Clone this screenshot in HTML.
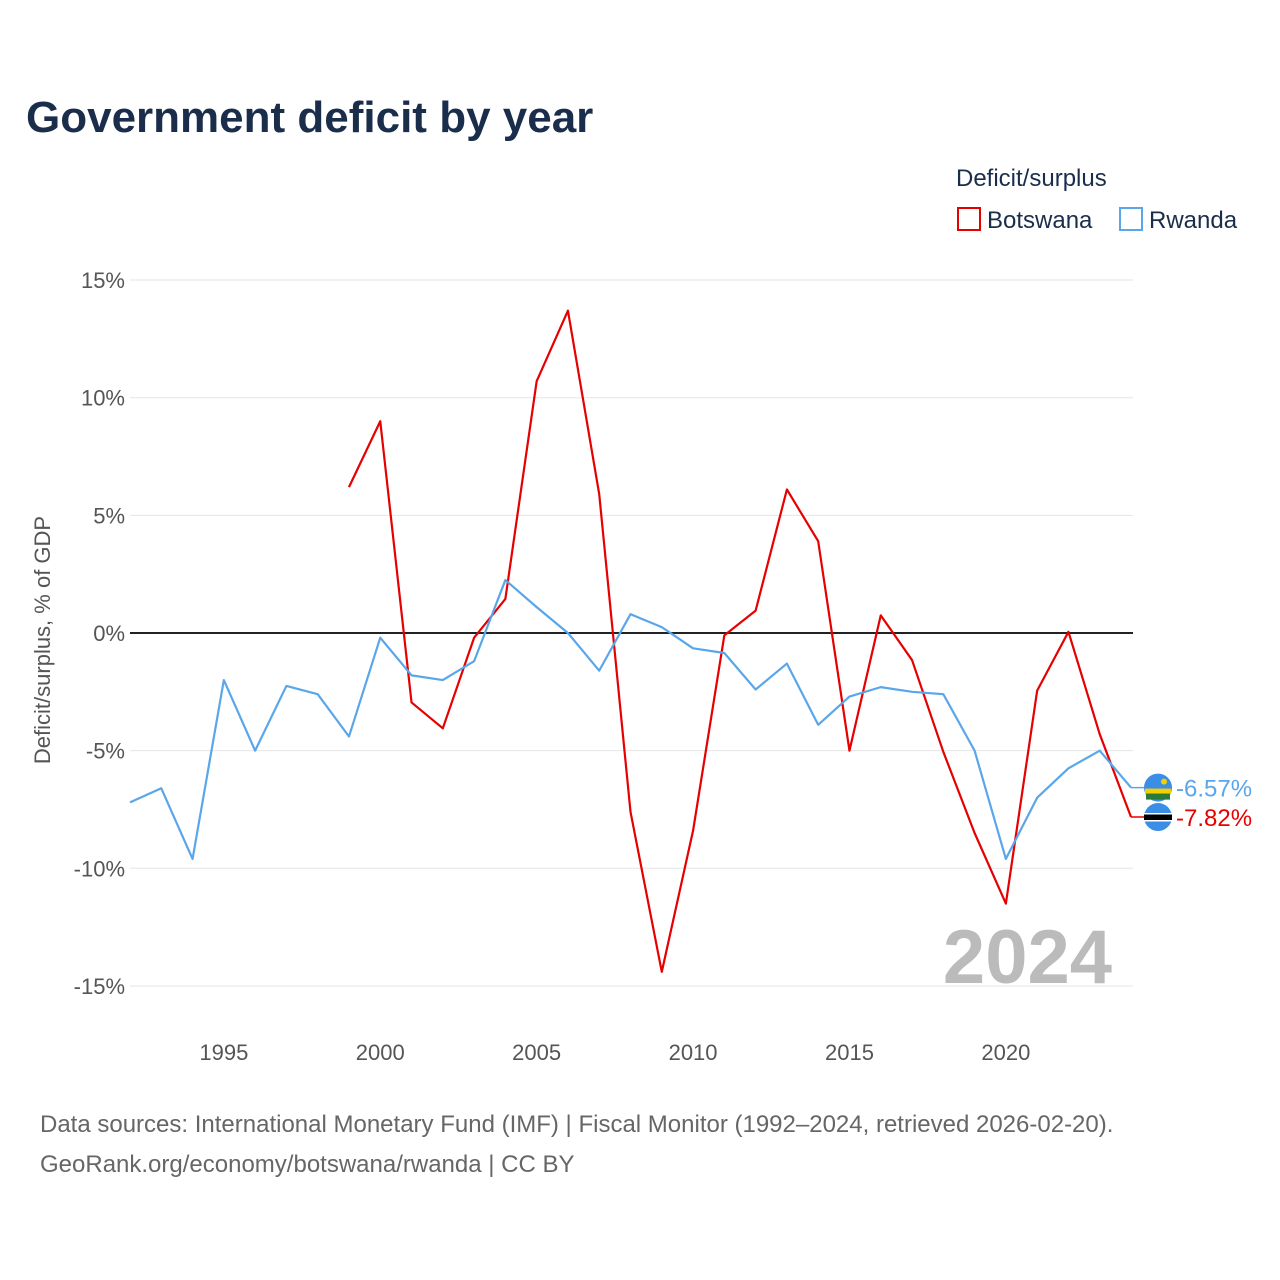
<!DOCTYPE html>
<html><head><meta charset="utf-8"><style>
body{margin:0;background:#fff;font-family:"Liberation Sans",sans-serif}
svg{display:block}
</style></head><body>
<svg id="chart" width="1280" height="1280">
<text x="26" y="132" font-size="44" font-weight="bold" fill="#1a2e4c">Government deficit by year</text>
<g>
<text x="956" y="186" font-size="24" fill="#1a2e4c">Deficit/surplus</text>
<g><rect x="958" y="208" width="22" height="22" fill="none" stroke="#e60000" stroke-width="2"/><text x="987" y="228" font-size="24" fill="#1a2e4c">Botswana</text></g>
<g><rect x="1120" y="208" width="22" height="22" fill="none" stroke="#5aa6ea" stroke-width="2"/><text x="1149" y="228" font-size="24" fill="#1a2e4c">Rwanda</text></g>
</g>
<text transform="translate(50,640) rotate(-90)" text-anchor="middle" font-size="22" fill="#555">Deficit/surplus, % of GDP</text>
<text x="1112" y="983" text-anchor="end" font-size="76" font-weight="bold" fill="#bbb">2024</text>
<g id="grid"></g><g id="series"></g>
<text x="40" y="1132" font-size="24" fill="#666">Data sources: International Monetary Fund (IMF) | Fiscal Monitor (1992–2024, retrieved 2026-02-20).</text>
<text x="40" y="1172" font-size="24" fill="#666">GeoRank.org/economy/botswana/rwanda | CC BY</text>
</svg>
<script>
const yTicks=[15,10,5,0,-5,-10,-15];
const xTicks=[1995,2000,2005,2010,2015,2020];
const rwYears=[1992,1993,1994,1995,1996,1997,1998,1999,2000,2001,2002,2003,2004,2005,2006,2007,2008,2009,2010,2011,2012,2013,2014,2015,2016,2017,2018,2019,2020,2021,2022,2023,2024];
const rwanda=[-7.2,-6.6,-9.6,-2.0,-5.0,-2.25,-2.6,-4.4,-0.2,-1.8,-2.0,-1.2,2.25,1.1,0,-1.6,0.8,0.25,-0.65,-0.85,-2.4,-1.3,-3.9,-2.7,-2.3,-2.5,-2.6,-5.0,-9.6,-7.0,-5.75,-5.0,-6.57];
const bwYears=[1999,2000,2001,2002,2003,2004,2005,2006,2007,2008,2009,2010,2011,2012,2013,2014,2015,2016,2017,2018,2019,2020,2021,2022,2023,2024];
const botswana=[6.2,9.0,-2.95,-4.05,-0.2,1.45,10.7,13.7,5.9,-7.6,-14.4,-8.4,-0.1,0.95,6.1,3.9,-5.0,0.75,-1.15,-5.05,-8.5,-11.5,-2.45,0.05,-4.3,-7.82];
const NS='http://www.w3.org/2000/svg';
const x=v=>130+(v-1992)*(1131-130)/32;
const y=v=>633-v*23.53;
function mk(t,a,p){const e=document.createElementNS(NS,t);for(const k in a)e.setAttribute(k,a[k]);p.appendChild(e);return e;}
const grid=document.getElementById('grid'),ser=document.getElementById('series');
yTicks.forEach(t=>{
const l=mk('line',{x1:130,x2:1133,y1:y(t),y2:y(t),stroke:t===0?'#222':'#e6e6e6','stroke-width':t===0?2:1},grid);


const tx=mk('text',{x:125,y:y(t)+8,'text-anchor':'end','font-size':22,fill:'#555'},grid);tx.textContent=t+'%';


});
xTicks.forEach(t=>{
const tx=mk('text',{x:x(t),y:1060,'text-anchor':'middle','font-size':22,fill:'#555'},grid);tx.textContent=t;


});
function line(ys,vs,c,name){
const p=mk('polyline',{points:ys.map((yr,i)=>x(yr)+','+y(vs[i])).join(' '),fill:'none',stroke:c,'stroke-width':2.2,'stroke-linejoin':'round'},ser);


}
line(bwYears,botswana,'#e60000','botswana-line');
line(rwYears,rwanda,'#5aa6ea','rwanda-line');
function endLabel(v,c,name,flag){
const cy=y(v), x0=x(2024);
const g=mk('g',{},ser);


mk('line',{x1:x0,x2:1172,y1:cy,y2:cy,stroke:c,'stroke-width':1.5},g);
mk('circle',{cx:1158,cy:cy,r:14,fill:'#3a8ee6'},g);
if(flag==='bw'){mk('rect',{x:1144,y:cy-3,width:28,height:6,fill:'#000'},g);mk('rect',{x:1144,y:cy-4,width:28,height:1.5,fill:'#fff'},g);mk('rect',{x:1144,y:cy+3,width:28,height:1.5,fill:'#fff'},g);}
else{mk('rect',{x:1145,y:cy+1,width:26,height:5,fill:'#f5d000'},g);mk('rect',{x:1146,y:cy+6,width:24,height:6,fill:'#2a7a3a'},g);mk('circle',{cx:1164,cy:cy-6,r:3,fill:'#f5d000'},g);}
const t=mk('text',{x:1176,y:cy+9,'font-size':24,fill:c},g);t.textContent=v.toFixed(2)+'%';
}
endLabel(rwanda[rwanda.length-1],'#5aa6ea','rwanda-end-label','rw');
endLabel(botswana[botswana.length-1],'#e60000','botswana-end-label','bw');
</script>
</body></html>
